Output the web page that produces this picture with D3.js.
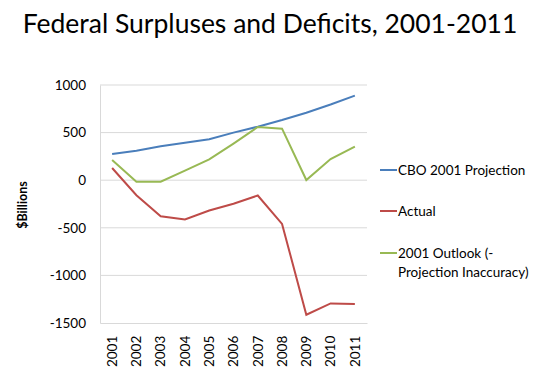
<!DOCTYPE html>
<html><head><meta charset="utf-8">
<script src="https://cdn.jsdelivr.net/npm/d3@7"></script>
<style>body{margin:0;background:#fff;}svg{display:block;}text{font-family:Lato,"Open Sans",sans-serif;}</style>
</head><body>
<svg id="c" width="560" height="390"></svg>
<script>
const years = ["2001","2002","2003","2004","2005","2006","2007","2008","2009","2010","2011"];
const cboProjection = [275, 310, 356, 394, 430, 500, 562, 632, 709, 795, 888];
const actual = [128, -158, -378, -413, -318, -248, -161, -459, -1413, -1294, -1300];
const outlook = [212, -15, -15, 100, 219, 385, 559, 541, 2, 222, 352];
const yTicks = [1000, 500, 0, -500, -1000, -1500];
const seriesNames = ["CBO 2001 Projection", "Actual", "2001 Outlook (-|Projection Inaccuracy)"];
const colors = ["#4A7EBB", "#BE4B48", "#98B954"];

const svg = d3.select("#c");
const L = 100, R = 367, T = 85, B = 323;
const x = d3.scaleBand().domain(years).range([L, R]);
const y = d3.scaleLinear().domain([-1500, 1000]).range([B, T]);

svg.append("text").attr("x", 270).attr("y", 33).attr("text-anchor", "middle")
  .attr("font-size", 26.5).attr("fill", "#000").text("Federal Surpluses and Deficits, 2001-2011");

// gridlines
svg.append("g").selectAll("line").data(yTicks.filter(d => d !== -1500)).join("line")
  .attr("x1", L).attr("x2", R).attr("y1", d => y(d)).attr("y2", d => y(d))
  .attr("stroke", "#D9D9D9").attr("stroke-width", 1);

const yAxis = svg.append("g").attr("transform", `translate(${L},0)`)
  .call(d3.axisLeft(y).tickValues(yTicks).tickSize(0).tickPadding(14).tickFormat(d => String(d)));
yAxis.select(".domain").attr("stroke", "#D9D9D9");
yAxis.selectAll("text").attr("font-size", 13.5).attr("fill", "#000").attr("font-family", "Lato, sans-serif");

const xAxis = svg.append("g").attr("transform", `translate(0,${B})`)
  .call(d3.axisBottom(x).tickSize(0));
xAxis.select(".domain").attr("stroke", "#D9D9D9");
xAxis.selectAll("text").attr("font-size", 13.5).attr("fill", "#000").attr("font-family", "Lato, sans-serif")
  .attr("transform", "rotate(-90)").attr("text-anchor", "end").attr("dx", "-0.5em").attr("dy", "0.35em")
  .attr("y", 0).attr("x", -6);

svg.append("text").attr("transform", "translate(27,205) rotate(-90)").attr("text-anchor", "middle")
  .attr("font-size", 12.5).attr("font-weight", "bold").attr("fill", "#000").text("$Billions");

const line = d3.line().x((d, i) => x(years[i]) + x.bandwidth() / 2).y(d => y(d));
[cboProjection, actual, outlook].forEach((s, k) => {
  svg.append("path").datum(s).attr("d", line).attr("fill", "none")
    .attr("stroke", colors[k]).attr("stroke-width", 2);
});

const legY = [170, 211, 253];
seriesNames.forEach((name, k) => {
  svg.append("line").attr("x1", 380).attr("x2", 397).attr("y1", legY[k]).attr("y2", legY[k])
    .attr("stroke", colors[k]).attr("stroke-width", 2);
  const t = svg.append("text").attr("x", 398).attr("y", legY[k] + 5).attr("font-size", 13.5).attr("fill", "#000");
  name.split("|").forEach((part, j) => {
    t.append("tspan").attr("x", 398).attr("dy", j === 0 ? 0 : 19).text(part);
  });
});
</script>
</body></html>
